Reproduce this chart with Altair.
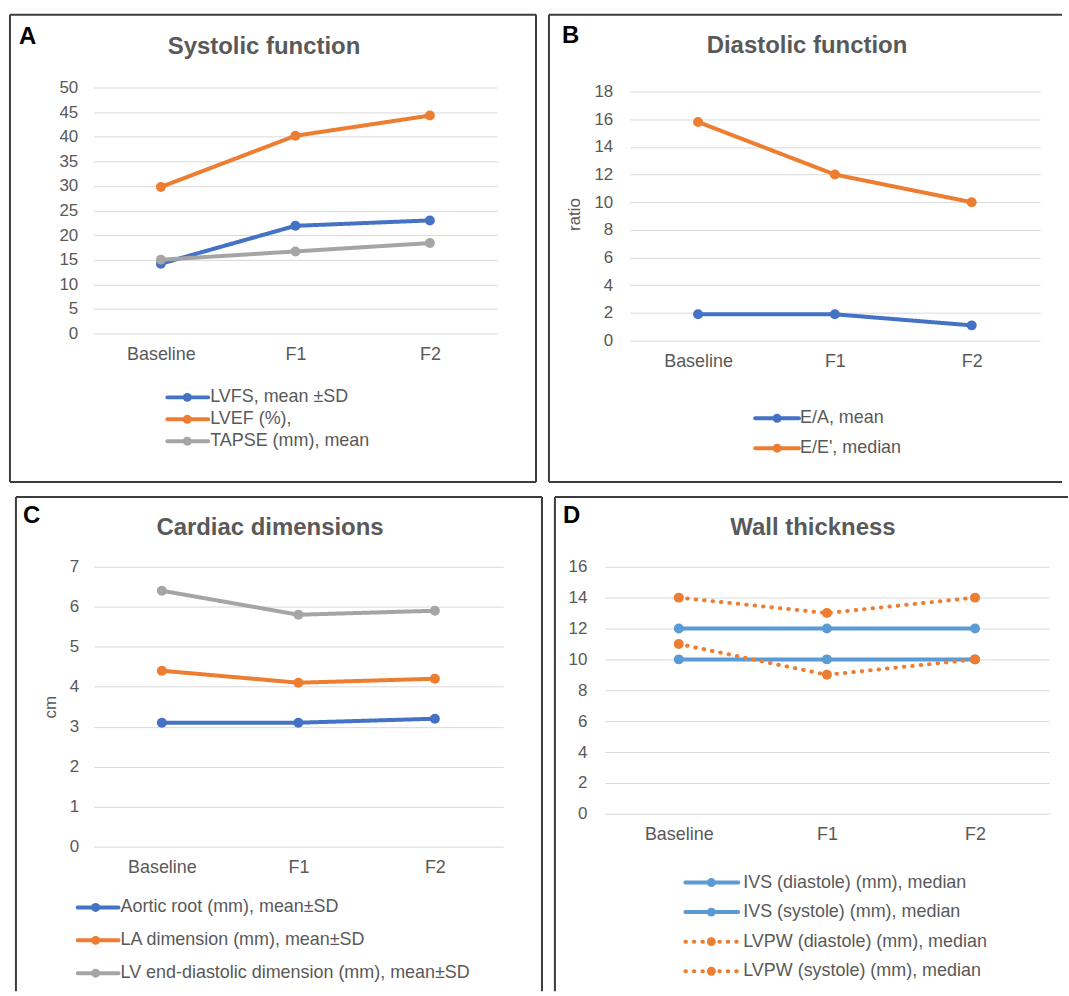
import altair as alt
import pandas as pd

FONT = "Liberation Sans"
TXT = "#595959"
BORDER = "#3c3c3c"

timepoints = ["Baseline", "F1", "F2"]

# Panel A - Systolic function
a_series = ["LVFS, mean ±SD", "LVEF (%),", "TAPSE (mm), mean"]
a_lvfs = [14.2, 21.9, 23.0]
a_lvef = [29.8, 40.2, 44.3]
a_tapse = [15.0, 16.7, 18.4]
a_colors = ["#4472C4", "#ED7D31", "#A5A5A5"]
a_yticks = [0, 5, 10, 15, 20, 25, 30, 35, 40, 45, 50]

# Panel B - Diastolic function
b_series = ["E/A, mean", "E/E', median"]
b_ea = [1.9, 1.9, 1.1]
b_ee = [15.8, 12.0, 10.0]
b_colors = ["#4472C4", "#ED7D31"]
b_yticks = [0, 2, 4, 6, 8, 10, 12, 14, 16, 18]

# Panel C - Cardiac dimensions
c_series = ["Aortic root (mm), mean±SD", "LA dimension (mm), mean±SD",
            "LV end-diastolic dimension (mm), mean±SD"]
c_aortic = [3.1, 3.1, 3.2]
c_la = [4.4, 4.1, 4.2]
c_lv = [6.4, 5.8, 5.9]
c_colors = ["#4472C4", "#ED7D31", "#A5A5A5"]
c_yticks = [0, 1, 2, 3, 4, 5, 6, 7]

# Panel D - Wall thickness
d_series = ["IVS (diastole) (mm), median", "IVS (systole) (mm), median",
            "LVPW (diastole) (mm), median", " LVPW (systole) (mm), median"]
d_ivs_d = [10, 10, 10]
d_ivs_s = [12, 12, 12]
d_lvpw_d = [11, 9, 10]
d_lvpw_s = [14, 13, 14]
d_colors = ["#5B9BD5", "#5B9BD5", "#ED7D31", "#ED7D31"]
d_yticks = [0, 2, 4, 6, 8, 10, 12, 14, 16]

SOLID = [1, 0]
DOTTED = [0.5, 8]


def long_df(series, values):
    rows = []
    for s, vals in zip(series, values):
        for t, v in zip(timepoints, vals):
            rows.append({"series": s, "time": t, "value": v})
    return pd.DataFrame(rows)


def panel(cfg):
    W, H = cfg["W"], cfg["H"]
    series = cfg["series"]
    n = len(series)
    df = long_df(series, cfg["values"])
    color = alt.Color("series:N", scale=alt.Scale(domain=series, range=cfg["colors"]), legend=None)
    dash = alt.StrokeDash("series:N", scale=alt.Scale(domain=series, range=cfg["dashes"]), legend=None)
    x = alt.X("time:N", sort=timepoints, title=None,
              scale=alt.Scale(type="point", padding=0.5),
              axis=alt.Axis(labelAngle=0, ticks=False, domain=False, grid=False,
                            labelFontSize=18, labelColor=TXT, labelFont=FONT, labelPadding=12))
    yaxis = dict(values=cfg["yticks"], ticks=False, domain=False, grid=True,
                 gridColor="#D9D9D9", gridWidth=1, labelFontSize=17, labelColor=TXT,
                 labelFont=FONT, labelPadding=cfg["lpad"])
    if cfg["ytitle"]:
        yaxis.update(titleFontSize=17, titleFontWeight="normal", titleColor=TXT,
                     titleFont=FONT, titlePadding=cfg["tpad"])
        y = alt.Y("value:Q", title=cfg["ytitle"],
                  scale=alt.Scale(domain=cfg["ydomain"], nice=False),
                  axis=alt.Axis(**yaxis))
    else:
        y = alt.Y("value:Q", title=None,
                  scale=alt.Scale(domain=cfg["ydomain"], nice=False),
                  axis=alt.Axis(**yaxis))

    base = alt.Chart(df)
    lines = base.mark_line(strokeWidth=4, strokeCap="round", strokeJoin="round").encode(
        x=x, y=y, color=color, strokeDash=dash)
    pts = base.mark_point(filled=True, size=100, opacity=1).encode(x=x, y=y, color=color)
    data_layer = alt.layer(lines, pts)

    leg_df = pd.DataFrame({"series": series, "order": list(range(n))})
    ly = alt.Y("order:Q", scale=alt.Scale(domain=[0, n - 1], range=cfg["leg_y"]), axis=None)
    lx0, lx1, ldot, ltx = cfg["leg_x"]
    lbase = alt.Chart(leg_df)
    leg_rule = lbase.mark_rule(strokeWidth=4, strokeCap="round").encode(
        x=alt.value(lx0), x2=alt.value(lx1), y=ly, color=color, strokeDash=dash)
    leg_pt = lbase.mark_point(filled=True, size=80, opacity=1).encode(
        x=alt.value(ldot), y=ly, color=color)
    leg_txt = lbase.mark_text(align="left", baseline="middle", fontSize=18, color=TXT,
                              font=FONT).encode(x=alt.value(ltx), y=ly, text="series:N")
    legend_layer = alt.layer(leg_rule, leg_pt, leg_txt)

    tdf = pd.DataFrame({"t": [cfg["title"]]})
    tx, tyy = cfg["title_pos"]
    title = alt.Chart(tdf).mark_text(align="center", baseline="middle", fontSize=24,
                                     fontWeight="bold", color=TXT, font=FONT).encode(
        x=alt.value(tx), y=alt.value(tyy), text="t:N")
    ldf = pd.DataFrame({"t": [cfg["letter"]]})
    lxp, lyp = cfg["letter_pos"]
    letter = alt.Chart(ldf).mark_text(align="left", baseline="alphabetic", fontSize=24,
                                      fontWeight="bold", color="#000000", font=FONT).encode(
        x=alt.value(lxp), y=alt.value(lyp), text="t:N")

    bl, br, bt, bb = cfg["box"]
    one = pd.DataFrame({"k": [0]})
    edges = []
    for e in cfg["edges"]:
        if e == "left":
            xa, xb, ya, yb = bl, bl, bt, bb
        elif e == "right":
            xa, xb, ya, yb = br, br, bt, bb
        elif e == "top":
            xa, xb, ya, yb = bl, br, bt, bt
        else:
            xa, xb, ya, yb = bl, br, bb, bb
        edges.append(alt.Chart(one).mark_rule(color=BORDER, strokeWidth=2).encode(
            x=alt.value(xa), x2=alt.value(xb), y=alt.value(ya), y2=alt.value(yb)))

    return alt.layer(*edges, title, letter, data_layer, legend_layer).resolve_scale(
        y="independent").properties(width=W, height=H)


A = panel(dict(
    W=405, H=247, series=a_series, values=[a_lvfs, a_lvef, a_tapse], colors=a_colors,
    dashes=[SOLID, SOLID, SOLID], yticks=a_yticks, ydomain=[0, 50], ytitle=None,
    lpad=16, tpad=8, leg_y=[311, 355], leg_x=(74, 115, 94, 117),
    title="Systolic function", title_pos=(171, -41), letter="A", letter_pos=(-75, -44),
    box=(-84, 444, -73, 396), edges=["left", "right", "top", "bottom"]))

B = panel(dict(
    W=412, H=254, series=b_series, values=[b_ea, b_ee], colors=b_colors,
    dashes=[SOLID, SOLID], yticks=b_yticks, ydomain=[0, 18.29], ytitle="ratio",
    lpad=17, tpad=10, leg_y=[332, 362], leg_x=(126, 170, 148, 171),
    title="Diastolic function", title_pos=(178, -42), letter="B", letter_pos=(-68, -45),
    box=(-81, 434, -73, 396), edges=["left", "top", "bottom"]))

C = panel(dict(
    W=411, H=281, series=c_series, values=[c_aortic, c_la, c_lv], colors=c_colors,
    dashes=[SOLID, SOLID, SOLID], yticks=c_yticks, ydomain=[0, 7], ytitle="cm",
    lpad=15, tpad=10, leg_y=[342, 408], leg_x=(-16, 25, 2, 27),
    title="Cardiac dimensions", title_pos=(177, -39), letter="C", letter_pos=(-71, -44),
    box=(-78, 450, -70, 426), edges=["left", "right", "top"]))

D = panel(dict(
    W=446, H=248, series=d_series, values=[d_ivs_d, d_ivs_s, d_lvpw_d, d_lvpw_s],
    colors=d_colors, dashes=[SOLID, SOLID, DOTTED, DOTTED], yticks=d_yticks,
    ydomain=[0, 16], ytitle=None, lpad=18, tpad=8, leg_y=[317, 406],
    leg_x=(81, 134, 107, 139),
    title="Wall thickness", title_pos=(209, -39), letter="D", letter_pos=(-42, -44),
    box=(-50, 465, -70, 426), edges=["left", "top"]))

top = alt.hconcat(A, B, spacing=11).resolve_scale(color="independent", strokeDash="independent")
bottom = alt.hconcat(C, D, spacing=11).resolve_scale(color="independent", strokeDash="independent")

chart = alt.vconcat(top, bottom, spacing=13).resolve_scale(
    color="independent", strokeDash="independent"
).properties(
    padding={"left": 9, "top": 12, "right": 0, "bottom": 0},
    background="white",
).configure_view(stroke=None)

chart.save("out.html", embed_options={"renderer": "svg", "actions": False})
